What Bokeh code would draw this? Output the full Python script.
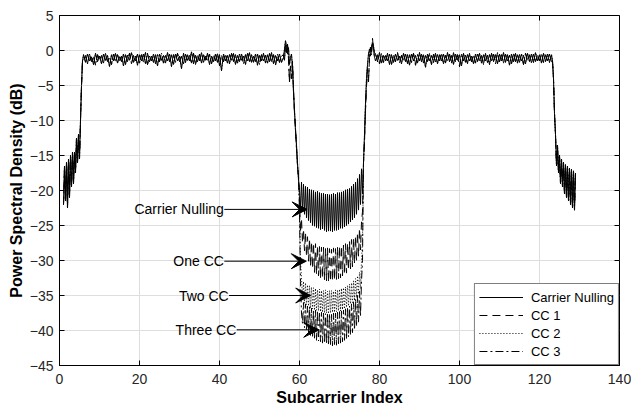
import numpy as np
from bokeh.plotting import figure
from bokeh.models import (Range1d, FixedTicker, Label, Arrow,
                          VeeHead, Legend, LegendItem)
from bokeh.embed import file_html
from bokeh.resources import INLINE

# ---------------- data (dB values) ----------------
x_ticks = [0, 20, 40, 60, 80, 100, 120, 140]
y_ticks = [-45, -40, -35, -30, -25, -20, -15, -10, -5, 0, 5]

series_names = ["Carrier Nulling", "CC 1", "CC 2", "CC 3"]

# left band edge / side lobes, subcarrier 1.0 .. 5.75 (step 0.25), shared
edge_left_db = [-22.0, -16.5, -21.5, -16.0, -22.5, -15.5, -21.0, -15.0, -19.5, -14.5,
                -19.0, -14.5, -17.5, -12.5, -16.0, -12.0, -15.5, -10.0, -5.0, -1.5]

# left pass band, subcarrier 6.0 .. 55.5 (step 0.5); trace A and trace B
band_left_a = [-0.6, -1.7, -0.5, -1.5, -0.9, -2.0, -0.4, -1.6, -0.8, -1.9,
               -0.5, -1.4, -0.7, -2.3, -0.6, -1.5, -0.4, -1.8, -0.9, -1.6,
               -0.5, -2.0, -0.7, -1.4, -0.3, -1.7, -0.8, -2.1, -0.6, -1.5,
               -0.5, -1.9, -0.4, -1.6, -0.8, -1.7, -0.6, -2.2, -0.5, -1.4,
               -0.7, -1.8, -0.3, -1.6, -0.6, -2.0, -0.5, -1.5, -0.8, -2.6,
               -0.4, -1.7, -0.6, -1.5, -0.2, -1.9, -0.7, -1.6, -0.5, -1.8,
               -0.6, -1.4, -0.4, -2.0, -0.8, -1.6, -0.5, -1.7, -0.6, -2.9,
               -0.5, -1.5, -0.7, -1.9, -0.4, -1.6, -0.6, -1.8, -0.5, -1.4,
               -0.8, -2.0, -0.4, -1.6, -0.6, -1.7, -0.5, -2.1, -0.7, -1.5,
               -0.4, -1.8, -0.6, -1.6, -0.3, -1.9, -0.7, -1.5, -0.5, -1.7]
band_left_b = [-1.5, -0.7, -1.9, -0.5, -1.6, -0.8, -2.1, -0.6, -1.4, -0.7,
               -1.8, -0.4, -1.6, -0.9, -2.0, -0.5, -1.7, -0.6, -1.5, -0.8,
               -2.2, -0.6, -1.6, -0.4, -1.9, -0.7, -1.5, -0.5, -1.8, -0.6,
               -1.7, -0.3, -2.0, -0.8, -1.5, -0.5, -1.9, -0.6, -1.6, -0.4,
               -1.8, -0.7, -1.5, -0.5, -2.3, -0.6, -1.7, -0.4, -1.6, -0.8,
               -1.9, -0.5, -1.4, -0.7, -1.8, -0.4, -2.0, -0.6, -1.5, -0.3,
               -1.7, -0.8, -1.6, -0.5, -1.9, -0.6, -1.5, -0.4, -2.2, -0.7,
               -1.6, -0.5, -1.8, -0.6, -1.4, -0.4, -2.0, -0.7, -1.6, -0.5,
               -1.9, -0.6, -1.5, -0.3, -1.7, -0.8, -1.6, -0.5, -2.0, -0.6,
               -1.5, -0.7, -1.8, -0.4, -1.6, -0.6, -2.1, -0.5, -1.7, -0.8]

# falling edge into the null, subcarrier 56.0 .. 59.75 (step 0.25)
fall_a = [-1.0, 0.2, 1.4, 0.6, -0.5, 0.4, -2.0, -1.0,
          -0.5, -2.5, -6.0, -8.5, -11.5, -13.5, -16.0, -18.5]
fall_b = [-0.6, -1.4, 0.8, -0.3, 0.9, -1.2, -4.5, -2.2,
          -4.0, -1.5, -5.5, -9.0, -11.0, -14.0, -16.5, -18.0]

# notch region, subcarrier 60.0 .. 76.0 (step 0.25), one list per series
notch_cn = [-20.0, -22.5, -18.8, -23.0, -19.1, -23.4, -19.4, -23.9,
            -19.5, -24.3, -19.8, -24.6, -19.9, -25.0, -20.0, -25.1,
            -20.2, -25.3, -20.1, -25.4, -20.3, -25.6, -20.4, -25.5,
            -20.4, -25.7, -20.5, -25.9, -20.5, -25.8, -20.6, -25.8,
            -20.5, -25.9, -20.4, -25.7, -20.5, -25.7, -20.3, -25.6,
            -20.3, -25.4, -20.2, -25.4, -20.1, -25.2, -19.9, -25.0,
            -19.8, -24.8, -19.7, -24.5, -19.4, -24.2, -19.1, -23.9,
            -18.8, -23.4, -18.3, -22.8, -17.7, -22.0, -16.9, -20.5,
            -16.0]
notch_cc1 = [-21.0, -26.0, -24.0, -27.5, -25.5, -28.6, -26.0, -29.4,
             -26.6, -30.1, -26.9, -30.8, -27.3, -31.1, -27.5, -31.7,
             -27.6, -32.0, -27.9, -32.2, -28.0, -32.6, -28.1, -32.5,
             -28.1, -32.8, -28.3, -32.9, -28.2, -33.1, -28.3, -33.0,
             -28.4, -32.9, -28.2, -32.8, -28.3, -32.7, -28.1, -32.6,
             -28.0, -32.5, -27.9, -32.2, -27.8, -32.0, -27.6, -31.8,
             -27.5, -31.4, -27.3, -31.2, -27.0, -30.9, -26.8, -30.4,
             -26.5, -30.0, -26.0, -29.4, -25.4, -28.5, -24.5, -23.0,
             -16.0]
notch_cc2 = [-22.0, -30.0, -32.5, -35.5, -33.0, -36.1, -33.2, -36.3,
             -33.5, -36.5, -33.6, -36.8, -33.8, -36.9, -33.9, -37.1,
             -34.0, -37.1, -34.2, -37.2, -34.1, -37.3, -34.3, -37.4,
             -34.3, -37.5, -34.2, -37.5, -34.4, -37.6, -34.3, -37.5,
             -34.3, -37.4, -34.4, -37.4, -34.2, -37.3, -34.2, -37.2,
             -34.1, -37.2, -34.0, -37.0, -33.9, -36.9, -33.8, -36.7,
             -33.6, -36.5, -33.4, -36.2, -33.2, -36.0, -32.9, -35.7,
             -32.6, -35.3, -32.2, -34.8, -31.7, -34.0, -30.0, -27.0,
             -16.0]
notch_cc3 = [-23.0, -33.0, -37.5, -39.0, -36.0, -39.6, -36.2, -40.0,
             -36.5, -40.3, -36.6, -40.7, -36.8, -40.9, -37.1, -41.1,
             -37.1, -41.4, -37.2, -41.5, -37.4, -41.6, -37.4, -41.8,
             -37.5, -41.8, -37.6, -41.9, -37.5, -42.1, -37.6, -42.0,
             -37.7, -42.2, -37.5, -42.0, -37.5, -42.1, -37.4, -41.9,
             -37.3, -41.8, -37.2, -41.6, -37.1, -41.4, -36.9, -41.2,
             -36.7, -40.9, -36.5, -40.6, -36.2, -40.3, -35.9, -39.9,
             -35.5, -39.4, -35.0, -38.8, -34.4, -38.0, -33.0, -30.0,
             -16.0]

# rising edge out of the null, subcarrier 76.25 .. 78.75 (step 0.25)
rise_a = [-12.0, -7.5, -4.0, -2.0, -0.5, 0.2, -0.8, 0.4, 1.0, 0.6, -0.3]
rise_b = [-13.0, -8.5, -5.0, -2.5, -4.5, -1.0, 0.5, -0.6, 1.7, 0.2, -1.0]

# right pass band, subcarrier 79.0 .. 123.0 (step 0.5); trace A and trace B
band_right_a = [-0.5, -1.6, -0.3, -1.8, -0.7, -1.5, -0.4, -2.0, -0.6, -1.7,
                -0.5, -1.4, -0.8, -1.9, -0.4, -1.6, -0.6, -2.1, -0.5, -1.5,
                -0.7, -1.8, -0.3, -1.6, -0.6, -2.4, -0.5, -1.5, -0.7, -1.7,
                -0.4, -1.9, -0.6, -1.5, -0.5, -1.8, -0.3, -1.6, -0.7, -2.0,
                -0.5, -1.4, -0.6, -2.2, -0.4, -1.7, -0.6, -1.5, -0.8, -1.9,
                -0.5, -1.6, -0.4, -1.8, -0.6, -1.5, -0.7, -2.0, -0.4, -1.6,
                -0.6, -1.9, -0.5, -1.5, -0.3, -1.7, -0.6, -2.1, -0.5, -1.6,
                -0.4, -1.8, -0.6, -1.5, -0.7, -1.9, -0.4, -1.6, -0.5, -1.7,
                -0.3, -1.5, -0.6, -1.8, -0.4, -1.6, -0.5, -1.7, -0.6]
band_right_b = [-1.5, -0.6, -1.9, -0.4, -1.7, -0.7, -1.5, -0.5, -2.0, -0.6,
                -1.6, -0.3, -1.8, -0.7, -1.5, -0.5, -1.9, -0.6, -1.7, -0.4,
                -2.1, -0.6, -1.5, -0.5, -1.8, -0.7, -1.6, -0.4, -2.0, -0.5,
                -1.7, -0.6, -1.5, -0.4, -1.9, -0.7, -1.6, -0.5, -1.8, -0.3,
                -1.6, -0.6, -2.3, -0.5, -1.5, -0.7, -1.9, -0.4, -1.6, -0.6,
                -1.8, -0.5, -1.5, -0.7, -2.0, -0.4, -1.7, -0.6, -1.5, -0.5,
                -1.9, -0.3, -1.6, -0.6, -1.8, -0.5, -1.5, -0.7, -1.9, -0.4,
                -1.6, -0.6, -1.7, -0.5, -2.0, -0.4, -1.5, -0.6, -1.8, -0.5,
                -1.6, -0.7, -1.5, -0.4, -1.7, -0.6, -1.5, -0.5, -1.6]

# right band edge / side lobes, subcarrier 123.25 .. 129.0 (step 0.25), shared
edge_right_db = [-1.5, -4.0, -9.0, -12.0, -16.5, -13.5, -17.5, -15.0,
                 -19.0, -15.5, -19.5, -16.0, -20.5, -16.3, -21.0, -16.5,
                 -21.5, -16.8, -22.0, -17.0, -22.5, -17.2, -22.8, -17.5]

# annotation texts and where their arrows point
ann_texts = ["Carrier Nulling", "One CC", "Two CC", "Three CC"]
ann_text_x = [41.1, 41.1, 42.3, 44.2]
ann_y = [-22.7, -30.1, -35.0, -39.9]
ann_tip_x = [61.9, 61.7, 62.8, 64.8]

# ---------------- build series ----------------
def build(band_l, fall, notch, rise, band_r):
    segs = [(1.0, 0.25, edge_left_db), (6.0, 0.5, band_l),
            (56.0, 0.25, fall), (60.0, 0.25, notch),
            (76.25, 0.25, rise), (79.0, 0.5, band_r),
            (123.25, 0.25, edge_right_db)]
    xs, ys = [], []
    for start, step, vals in segs:
        xs.append(start + step * np.arange(len(vals)))
        ys.append(np.array(vals, dtype=float))
    return np.concatenate(xs), np.concatenate(ys)

series_parts = [
    (band_left_a, fall_a, notch_cn, rise_a, band_right_a),
    (band_left_b, fall_b, notch_cc1, rise_b, band_right_b),
    (band_left_a, fall_a, notch_cc2, rise_a, band_right_a),
    (band_left_b, fall_b, notch_cc3, rise_b, band_right_b),
]
dashes = ["solid", "8 5", "1 2", "8 3 2 3"]

FONT = "Liberation Sans"

p = figure(width=631, height=412, x_range=Range1d(0, 140), y_range=Range1d(-45, 5),
           output_backend="svg", toolbar_location=None,
           min_border_left=59, min_border_right=12, min_border_top=15,
           min_border_bottom=47)
p.background_fill_color = "white"
p.border_fill_color = "white"
p.outline_line_color = "black"
p.outline_line_width = 1

renderers = []
for name, parts, dash in zip(series_names, series_parts, dashes):
    x, y = build(*parts)
    r = p.line(x, y, line_color="black", line_width=1, line_dash=dash)
    renderers.append(r)

# inward ticks on top and right frame edges (clipped to the frame)
p.scatter(x=x_ticks, y=[max(y_ticks)] * len(x_ticks), marker="dash", angle=np.pi / 2,
          size=10, line_color="black", line_width=1)
p.scatter(x=[max(x_ticks)] * len(y_ticks), y=y_ticks, marker="dash",
          size=10, line_color="black", line_width=1)

# axes
for ax in (p.xaxis[0], p.yaxis[0]):
    ax.major_tick_in = 5
    ax.major_tick_out = 0
    ax.minor_tick_in = 0
    ax.minor_tick_out = 0
    ax.axis_line_color = "black"
    ax.major_tick_line_color = "black"
    ax.major_label_text_font = FONT
    ax.major_label_text_font_size = "14px"
    ax.major_label_text_color = "#262626"
    ax.axis_label_text_font = FONT
    ax.axis_label_text_font_size = "16px"
    ax.axis_label_text_font_style = "bold"
    ax.axis_label_text_color = "black"
p.xaxis[0].ticker = FixedTicker(ticks=x_ticks)
p.yaxis[0].ticker = FixedTicker(ticks=y_ticks)
p.xaxis[0].axis_label = "Subcarrier Index"
p.yaxis[0].axis_label = "Power Spectral Density (dB)"
p.xaxis[0].major_label_standoff = 8
p.xaxis[0].axis_label_standoff = 2
p.yaxis[0].major_label_standoff = 6
p.yaxis[0].axis_label_standoff = 2

p.xgrid.ticker = FixedTicker(ticks=x_ticks)
p.ygrid.ticker = FixedTicker(ticks=y_ticks)
p.xgrid.grid_line_color = "#dedede"
p.ygrid.grid_line_color = "#dedede"

# annotations
for t, tx, ty, tip in zip(ann_texts, ann_text_x, ann_y, ann_tip_x):
    p.add_layout(Label(x=tx, y=ty, text=t, text_align="right", text_baseline="middle",
                       text_font=FONT, text_font_size="14px", text_color="black"))
    p.add_layout(Arrow(x_start=tx + 0.1, y_start=ty, x_end=tip, y_end=ty,
                       line_color="black", line_width=1,
                       end=VeeHead(size=15, fill_color="black", line_color="black")))

legend = Legend(items=[LegendItem(label=n, renderers=[r]) for n, r in zip(series_names, renderers)],
                location="bottom_right", margin=0, padding=4, spacing=0,
                glyph_width=44, glyph_height=18, label_height=18, label_standoff=8,
                label_text_font=FONT, label_text_font_size="13px", label_text_color="black",
                border_line_color="black", border_line_width=1,
                background_fill_color="white", background_fill_alpha=1)
p.add_layout(legend, "center")

open("out.html", "w").write(file_html(p, INLINE))
